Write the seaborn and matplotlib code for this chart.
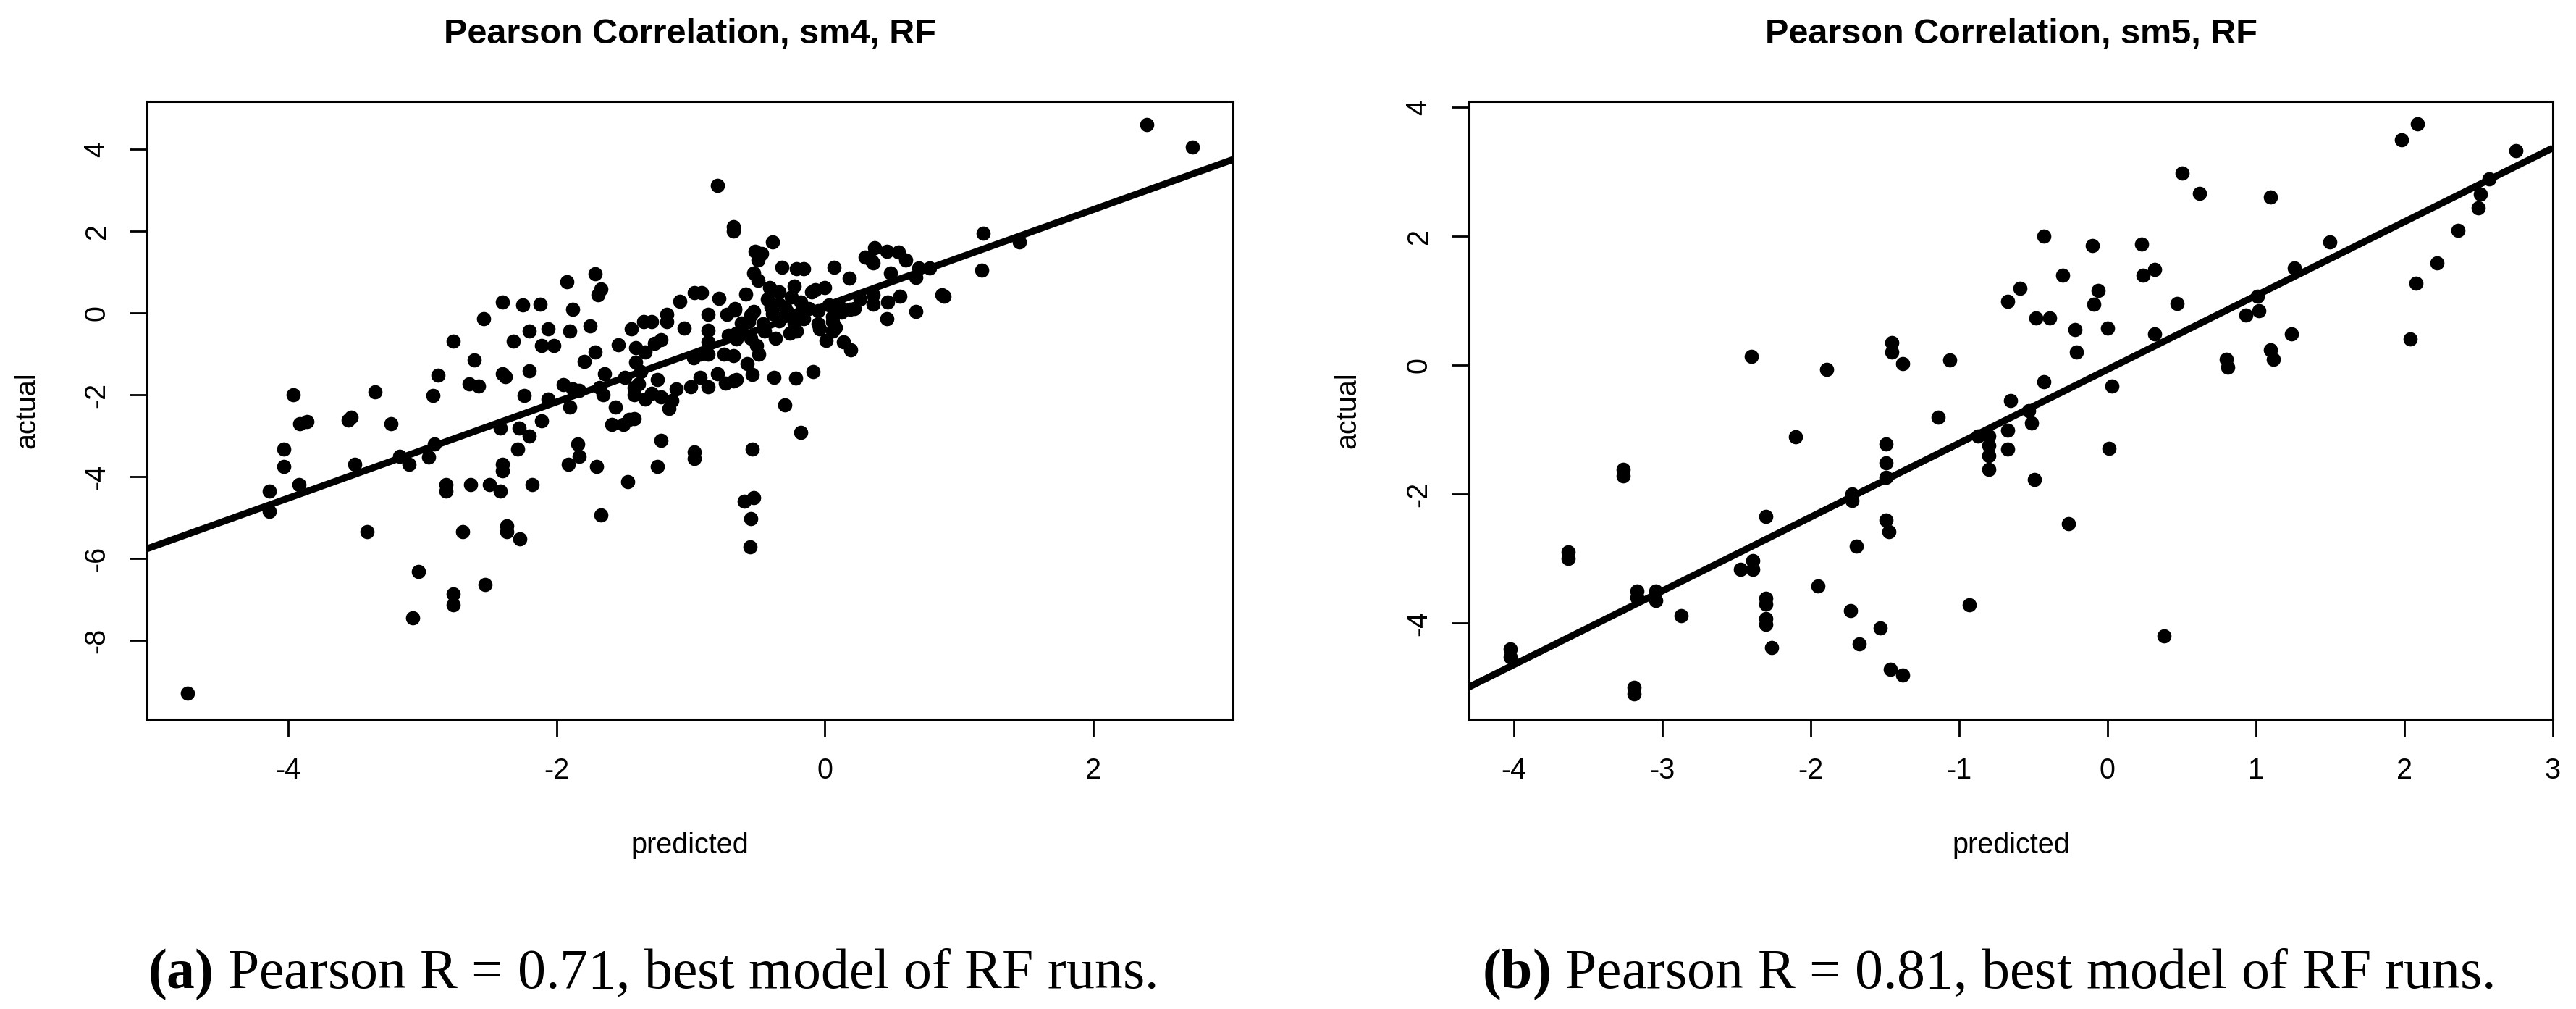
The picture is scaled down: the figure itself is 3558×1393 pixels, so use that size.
import matplotlib
matplotlib.use("Agg")
import matplotlib.pyplot as plt
import pandas as pd
import seaborn as sns

# ---------------- data ----------------
sm4_predicted = [
    -4.75, -3.96, -3.91, -3.86, -4.03, -4.03, -4.14, -4.14, -3.92, -3.53,
    -3.55, -3.35, -3.23, -3.50, -3.41, -3.17, -3.10, -2.95, -2.91, -2.92,
    -2.88, -2.77, -2.61, -2.54, -2.40, -2.65, -2.58, -2.40, -2.38, -2.42,
    -2.40, -2.40, -2.82, -2.82, -2.64, -2.50, -2.42, -2.70, -2.37, -2.37,
    -3.03, -2.77, -2.77, -2.53, -3.07, -2.32,
    -0.80, -0.68, -0.68, -0.39, -0.52, -0.47, -0.50, -0.53, -0.50, -0.32,
    -0.21, -0.16, 0.07, 0.18, 0.30, -1.92, -1.71, -1.69, -1.67, -0.97,
    -0.92, -1.08, -2.25, -2.12, -1.88, -0.79, -0.59, -2.20, -2.06, -2.11,
    -2.02, -1.90, -1.75, -2.20, -2.24, -1.79, -1.71, -1.64, -1.54, -1.44,
    -1.35, -1.29, -1.41, -1.18, -1.18, -1.05, -1.34, -1.27, -1.22, -0.87,
    -0.87, -0.87, -0.87, -0.73, -0.67, -0.72, -0.66, -0.62, -0.75, -0.68,
    -0.98, -0.93, -0.57, -0.55, -0.51, -0.49, -0.58, -0.54, -0.38, -0.22,
    -0.09, -0.30, -0.18, -0.54, -0.53, -0.60, -0.55, -0.56, 0.01, 0.19,
    0.14, 0.06, 0.06, -0.04, 0.22, -1.95, -1.88, -1.83, -2.06, -1.90,
    -2.11, -2.28, -2.20, -2.29, -1.84, -1.83, -1.91, -1.70, -2.18, -1.47,
    -1.67, -2.27, -1.22, -1.25, -0.97, -0.97, -1.68, -1.65, -1.56, -1.59,
    -1.50, -1.42, -1.46, -1.42, -1.39, -1.42, -1.34, -1.37, -1.41, -1.25,
    -1.29, -1.22, -1.16, -1.11, -1.14, -1.00, -0.93, -0.87, -0.80, -0.74,
    -0.68, -1.49,
    0.36, 0.185, 0.26, 0.06, 0.08, 0.00, -0.10, -0.07, -0.67, -0.53,
    -0.41, -0.34, -0.23, -0.43, -0.34, -0.25, -0.18, -0.39, -0.28, -0.19,
    -0.12, -0.46, -0.34, -0.23, -0.16, -0.05, -0.66, -0.66, -0.37, -0.26,
    -0.21, 0.10, -0.05, 0.03, 0.12, -0.30, -0.40, -0.55, -0.62, -0.45,
    2.40, 2.74, 1.18, 1.45, 1.17, 0.37, 0.46, 0.55, 0.60, 0.35,
    0.49, 0.70, 0.68, 0.78, 0.36, 0.36, 0.47, 0.56, 0.87, 0.89,
    0.68, 0.46,
]
sm4_actual = [
    -9.30, -2.00, -2.70, -2.65, -3.33, -3.75, -4.35, -4.85, -4.20, -2.54,
    -2.62, -1.93, -2.70, -3.69, -5.35, -3.50, -3.69, -3.53, -3.21, -2.02,
    -1.52, -0.69, -1.15, -0.14, 0.27, -1.74, -1.78, -1.48, -1.55, -2.82,
    -3.70, -3.85, -4.20, -4.35, -4.20, -4.20, -4.35, -5.35, -5.20, -5.35,
    -6.31, -6.87, -7.14, -6.63, -7.45, -0.69,
    3.11, 2.00, 2.10, 1.74, 1.51, 1.45, 1.30, 0.98, 0.80, 1.12,
    1.08, 1.08, 1.12, 0.85, 1.36, 0.77, 0.96, 0.45, 0.58, 0.50,
    0.50, 0.28, 0.19, 0.22, 0.09, 0.35, 0.47, -0.45, -0.39, -0.80,
    -0.80, -0.45, -0.32, -1.42, -2.01, -1.19, -0.95, -1.48, -0.77, -0.39,
    -0.22, -0.22, -0.85, -0.03, -0.22, -0.37, -0.95, -0.75, -0.65, -0.03,
    -0.42, -0.71, -1.00, -0.03, 0.11, -0.55, -0.64, -0.45, -1.00, -1.05,
    -1.09, -1.00, -0.22, -0.61, -0.80, -1.00, -1.24, -1.50, -1.57, -1.60,
    -1.43, -2.25, -2.92, -3.33, -4.51, -4.61, -5.02, -5.71, -0.68, -0.90,
    -0.71, -0.45, -0.21, -0.38, 0.11, -1.76, -1.85, -1.90, -2.10, -2.30,
    -2.63, -2.82, -3.00, -3.33, -3.21, -3.50, -3.69, -3.76, -4.20, -4.12,
    -4.94, -5.52, -3.11, -3.76, -3.40, -3.55, -1.83, -2.00, -2.30, -2.73,
    -2.73, -2.58, -2.60, -1.83, -1.74, -2.00, -2.10, -1.44, -1.20, -1.63,
    -1.96, -2.06, -2.34, -1.86, -2.14, -1.81, -1.57, -1.81, -1.48, -1.72,
    -1.67, -1.57,
    1.22, 0.09, 0.33, -0.08, -0.35, 0.62, 0.51, 0.57, 0.07, 0.04,
    0.62, 0.51, 0.65, 0.33, 0.21, 0.39, 0.27, -0.02, 0.04, -0.02,
    0.10, -0.26, -0.20, -0.26, -0.14, -0.26, -0.50, -1.62, -0.61, -0.50,
    -0.44, 0.20, 0.05, 0.20, 0.02, 0.15, 0.15, -0.05, -0.25, -0.45,
    4.61, 4.06, 1.95, 1.73, 1.04, 1.60, 1.51, 1.48, 1.30, 1.27,
    0.97, 1.10, 0.86, 1.10, 0.45, 0.21, 0.27, 0.41, 0.45, 0.40,
    0.04, -0.14,
]

sm5_predicted = [
    -4.02, -4.02, -3.19, -3.19, -3.63, -3.63, -3.26, -3.26, -3.17, -3.17,
    -3.04, -3.04, -2.87, -2.40, -2.30, -2.39, -2.47, -2.39, -2.30, -2.30,
    -2.30, -2.30, -2.26, -2.10, -1.89, -1.95, -1.72, -1.72, -1.69, -1.73,
    -1.67, -1.53, -1.46, -1.38, -1.45, -1.45, -1.38, -1.49, -1.49, -1.49,
    -1.49, -1.47, -1.06, -1.14, -0.93, -0.80, -0.80, -0.80, -0.80, -0.87,
    -0.67, -0.65, -0.67, -0.67, -0.59, -0.43, -0.10, 0.23, -0.30, -0.06,
    -0.09, 0.24, 0.32, 0.505, 0.62, 1.10, 0.47, -0.48, -0.39, -0.22,
    0.00, -0.21, 0.32, -0.43, 0.03, -0.53, -0.51, 0.01, -0.49, -0.26,
    0.38, 0.80, 0.81, 0.93, 1.02, 1.01, 1.10, 1.12, 1.24, 1.26,
    1.50, 1.98, 2.09, 2.04, 2.08, 2.22, 2.36, 2.50, 2.51, 2.57,
    2.75,
]
sm5_actual = [
    -4.40, -4.52, -5.00, -5.10, -2.90, -3.00, -1.62, -1.72, -3.50, -3.60,
    -3.50, -3.65, -3.88, 0.14, -2.34, -3.03, -3.16, -3.16, -3.62, -3.70,
    -3.93, -4.02, -4.38, -1.11, -0.06, -3.42, -2.00, -2.10, -2.81, -3.80,
    -4.32, -4.07, -4.71, -4.81, 0.35, 0.20, 0.03, -1.22, -1.51, -1.74,
    -2.40, -2.58, 0.08, -0.81, -3.72, -1.10, -1.25, -1.40, -1.62, -1.10,
    0.99, -0.55, -1.01, -1.30, 1.19, 2.00, 1.85, 1.88, 1.39, 1.16,
    0.95, 1.39, 1.48, 2.98, 2.66, 2.61, 0.96, 0.73, 0.73, 0.55,
    0.58, 0.20, 0.49, -0.26, -0.32, -0.70, -0.90, -1.29, -1.77, -2.46,
    -4.20, 0.09, -0.03, 0.78, 0.84, 1.07, 0.24, 0.09, 0.49, 1.51,
    1.91, 3.50, 3.74, 0.41, 1.27, 1.59, 2.09, 2.44, 2.65, 2.89,
    3.33,
]

# least-squares lines: (slope, intercept)
sm4_fit = (1.176, 0.175)
sm5_fit = (1.145, -0.067)

titles = ["Pearson Correlation, sm4, RF", "Pearson Correlation, sm5, RF"]
x_label = "predicted"
y_label = "actual"
caption_tags = ["(a)", "(b)"]
caption_texts = ["Pearson R = 0.71, best model of RF runs.",
                 "Pearson R = 0.81, best model of RF runs."]
sm4_xticks = [-4, -2, 0, 2]
sm4_yticks = [-8, -6, -4, -2, 0, 2, 4]
sm5_xticks = [-4, -3, -2, -1, 0, 1, 2, 3]
sm5_yticks = [-4, -2, 0, 2, 4]

# ---------------- style ----------------
sns.set_theme(style="ticks")
plt.rcParams["font.family"] = ["Liberation Sans", "DejaVu Sans"]
plt.rcParams["axes.unicode_minus"] = False
plt.rcParams["mathtext.fontset"] = "custom"
plt.rcParams["mathtext.rm"] = "Liberation Serif"
plt.rcParams["mathtext.bf"] = "Liberation Serif:bold"

W, H = 3558, 1393
fig = plt.figure(figsize=(W / 100, H / 100), dpi=100)
fig.patch.set_facecolor("white")

ax1 = fig.add_axes([203 / W, 1 - 993 / H, 1500 / W, 853 / H])
ax2 = fig.add_axes([2029 / W, 1 - 993 / H, 1497 / W, 853 / H])

panels = [
    (ax1, sm4_predicted, sm4_actual, sm4_fit, (-5.05, 3.04), (-9.93, 5.17),
     sm4_xticks, sm4_yticks, -0.098),
    (ax2, sm5_predicted, sm5_actual, sm5_fit, (-4.30, 3.00), (-5.49, 4.09),
     sm5_xticks, sm5_yticks, -0.0995),
]

for i, (ax, xs, ys, fit, xlim, ylim, xt, yt, ylab_x) in enumerate(panels):
    df = pd.DataFrame({"predicted": xs, "actual": ys})
    sns.scatterplot(data=df, x="predicted", y="actual", ax=ax, color="black",
                    s=200, linewidth=0, marker="o", legend=False, zorder=2)
    slope, intercept = fit
    ax.axline((0, intercept), slope=slope, color="black", lw=6.8,
              solid_capstyle="butt", zorder=3)
    ax.set_xlim(*xlim)
    ax.set_ylim(*ylim)
    ax.set_xticks(xt)
    ax.set_yticks(yt)
    ax.set_facecolor("white")
    for sp in ax.spines.values():
        sp.set_visible(True)
        sp.set_color("black")
        sp.set_linewidth(2.2)
    ax.tick_params(axis="both", direction="out", length=17.3, width=2,
                   colors="black", labelsize=28.5, bottom=True, left=True,
                   top=False, right=False)
    ax.tick_params(axis="x", pad=20)
    ax.tick_params(axis="y", pad=19, labelrotation=90)
    for lbl in ax.get_yticklabels():
        lbl.set_va("center")
    ax.set_xlabel(x_label, fontsize=28.5, color="black")
    ax.set_ylabel(y_label, fontsize=28.5, color="black")
    ax.xaxis.set_label_coords(0.5, -0.182)
    ax.yaxis.set_label_coords(ylab_x, 0.5)
    ax.set_title(titles[i], fontsize=35, fontweight="bold", pad=58,
                 color="black")

caption_x = [900 / W, 2746 / W]
for i in range(2):
    fig.text(caption_x[i], 1 - 1345 / H,
             r"$\mathbf{" + caption_tags[i] + r"}$ " + caption_texts[i],
             ha="center", va="center", fontsize=56,
             family=["Liberation Serif", "DejaVu Serif"], color="black")

fig.savefig("out.png", dpi=100, facecolor="white")
